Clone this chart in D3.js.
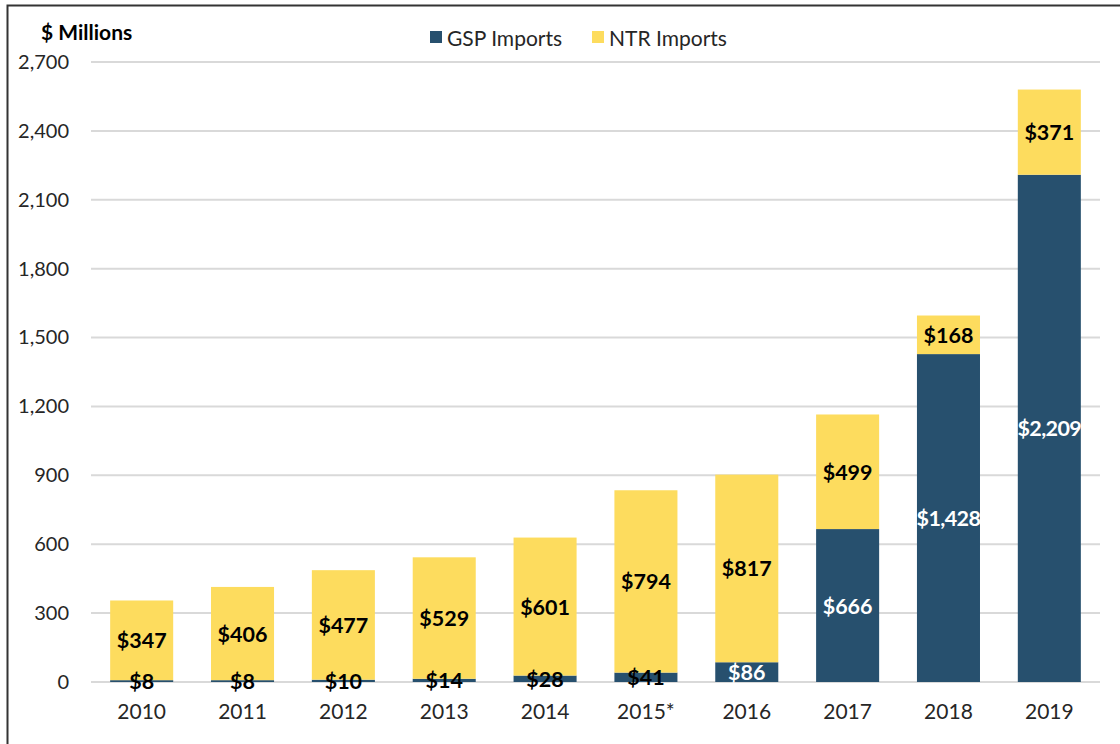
<!DOCTYPE html>
<head>
    <meta charset="utf-8">
    <script src="https://cdnjs.cloudflare.com/ajax/libs/d3/7.8.5/d3.min.js"></script>
    <style>
        body { margin: 0; background: #fff; }
        svg { display: block; font-family: Lato, "Open Sans", sans-serif; }
        .tick text { fill: #262626; }
        .lbl { font-size: 21.5px; font-weight: bold; text-anchor: middle; dominant-baseline: central; }
    </style>
</head>
<body>
    <script>
        var years = ["2010", "2011", "2012", "2013", "2014", "2015*", "2016", "2017", "2018", "2019"];
        var gspImports = [8, 8, 10, 14, 28, 41, 86, 666, 1428, 2209];
        var ntrImports = [347, 406, 477, 529, 601, 794, 817, 499, 168, 371];
        var yTicks = [0, 300, 600, 900, 1200, 1500, 1800, 2100, 2400, 2700];

        var W = 1120, H = 744;
        var margin = { left: 91, right: 20, top: 62, bottom: 62 };
        var colors = { gsp: "#27506e", ntr: "#fddc5e" };

        var svg = d3.select("body").append("svg")
            .attr("width", W).attr("height", H);

        // outer frame (Excel chart area border)
        svg.append("rect")
            .attr("x", 7.5).attr("y", 5.5)
            .attr("width", W).attr("height", H)
            .attr("fill", "none").attr("stroke", "#333").attr("stroke-width", 2);

        var x = d3.scaleBand().domain(years)
            .range([margin.left, W - margin.right])
            .paddingInner(0.375).paddingOuter(0.19);
        var y = d3.scaleLinear().domain([0, 2700])
            .range([H - margin.bottom, margin.top]);

        // gridlines
        svg.append("g").selectAll("line").data(yTicks).enter().append("line")
            .attr("x1", margin.left).attr("x2", W - margin.right)
            .attr("y1", function (d) { return y(d); })
            .attr("y2", function (d) { return y(d); })
            .attr("stroke", "#d9d9d9").attr("stroke-width", 2);

        var yAxis = d3.axisLeft(y).tickValues(yTicks).tickSize(0).tickPadding(22)
            .tickFormat(d3.format(","));
        svg.append("g").attr("transform", "translate(" + margin.left + ",0)")
            .call(yAxis).call(function (g) { g.select(".domain").remove(); })
            .selectAll("text").attr("font-family", "Lato, sans-serif").attr("font-size", 20);

        var xAxis = d3.axisBottom(x).tickSize(0).tickPadding(22);
        svg.append("g").attr("transform", "translate(0," + (H - margin.bottom) + ")")
            .call(xAxis).call(function (g) { g.select(".domain").remove(); })
            .selectAll("text").attr("font-family", "Lato, sans-serif").attr("font-size", 21);

        var rows = years.map(function (yr, i) {
            return { year: yr, gsp: gspImports[i], ntr: ntrImports[i] };
        });
        var stack = d3.stack().keys(["gsp", "ntr"])(rows);

        svg.append("g").selectAll("g").data(stack).enter().append("g")
            .attr("fill", function (d) { return colors[d.key]; })
            .selectAll("rect").data(function (d) { return d; }).enter().append("rect")
            .attr("x", function (d) { return x(d.data.year); })
            .attr("width", x.bandwidth())
            .attr("y", function (d) { return y(d[1]); })
            .attr("height", function (d) { return y(d[0]) - y(d[1]); });

        // data labels
        var fmt = function (v) { return "$" + d3.format(",")(v); };
        stack.forEach(function (s) {
            svg.append("g").selectAll("text").data(s).enter().append("text")
                .attr("class", "lbl")
                .attr("x", function (d) { return x(d.data.year) + x.bandwidth() / 2; })
                .attr("y", function (d) { return (y(d[0]) + y(d[1])) / 2; })
                .attr("fill", function (d) {
                    return s.key === "gsp" && d.data.gsp > 50 ? "#fff" : "#000";
                })
                .attr("letter-spacing", function (d) { return d.data[s.key] >= 1000 ? -0.6 : 0; })
                .text(function (d) { return fmt(d.data[s.key]); });
        });

        // axis title
        svg.append("text").attr("x", 41).attr("y", 40)
            .attr("font-size", 21).attr("font-weight", "bold").attr("fill", "#000")
            .text("$ Millions");

        // legend
        var legend = [{ key: "gsp", name: "GSP Imports", x: 430 }, { key: "ntr", name: "NTR Imports", x: 592 }];
        var lg = svg.append("g").selectAll("g").data(legend).enter().append("g")
            .attr("transform", function (d) { return "translate(" + d.x + ",31)"; });
        lg.append("rect").attr("width", 12).attr("height", 12)
            .attr("fill", function (d) { return colors[d.key]; });
        lg.append("text").attr("x", 17).attr("y", 6).attr("dominant-baseline", "central")
            .attr("font-size", 21).attr("fill", "#262626")
            .text(function (d) { return d.name; });
    </script>
</body>
